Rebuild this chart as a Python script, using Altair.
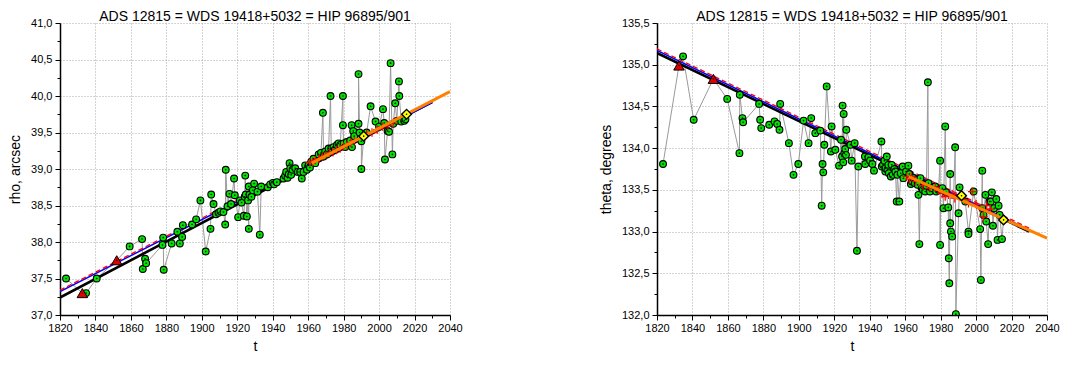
import altair as alt
import pandas as pd

TITLE = "ADS 12815 = WDS 19418+5032 = HIP 96895/901"
FONT = "Liberation Sans"

# ---------------- rho panel data ----------------
rho_t = [1823.4, 1834.7, 1840.7, 1859.3, 1866.3, 1866.7, 1868.0, 1868.6, 1877.8, 1878.2,
         1878.5, 1883.0, 1886.2, 1887.6, 1888.9, 1889.3, 1894.5, 1896.8, 1899.2, 1902.2,
         1904.9, 1905.3, 1906.6, 1908.0, 1909.4, 1910.5, 1912.2, 1913.2, 1913.5, 1914.5,
         1915.6, 1916.5, 1918.2, 1918.6, 1920.5, 1921.5, 1922.4, 1923.7, 1924.2, 1924.5,
         1924.8, 1925.4, 1926.1, 1926.5, 1926.5, 1926.9, 1928.0, 1928.8, 1929.5, 1931.4,
         1932.7, 1933.5, 1937.2, 1938.6, 1940.1, 1940.8, 1942.3, 1946.1, 1947.0, 1947.6,
         1948.4, 1949.0, 1949.5, 1949.9, 1950.4, 1951.2, 1952.7, 1954.2, 1955.5, 1956.4,
         1957.4, 1958.3, 1959.3, 1960.2, 1961.0, 1961.7, 1963.0, 1964.0, 1965.9, 1967.2,
         1968.3, 1968.7, 1969.6, 1970.5, 1971.5, 1972.6, 1973.0, 1974.3, 1975.0, 1976.2,
         1977.1, 1978.1, 1979.6, 1979.6, 1980.0, 1980.9, 1981.8, 1983.7, 1984.5, 1984.7,
         1985.4, 1986.0, 1988.4, 1988.4, 1989.0, 1990.0, 1990.0, 1993.0, 1995.2, 1998.0,
         2000.0, 2002.2, 2002.9, 2003.3, 2004.8, 2005.6, 2006.5, 2007.5, 2008.0, 2009.1,
         2010.0, 2011.2, 2011.4, 2012.5, 2014.2, 2014.9]
rho_v = [37.50, 37.30, 37.50, 37.94, 38.04, 37.63, 37.77, 37.71, 37.96, 38.06,
         37.62, 37.98, 38.14, 37.98, 38.07, 38.23, 38.24, 38.31, 38.57, 37.87,
         38.18, 38.65, 38.52, 38.38, 38.40, 38.42, 38.41, 38.24, 38.99, 38.49,
         38.66, 38.52, 38.87, 38.64, 38.34, 38.57, 38.54, 38.36, 38.62, 38.91,
         38.65, 38.35, 38.57, 38.18, 38.76, 38.65, 38.62, 38.71, 38.80, 38.69,
         38.10, 38.76, 38.75, 38.79, 38.81, 38.79, 38.82, 38.87, 38.91, 38.96,
         38.88, 38.93, 39.08, 39.01, 38.92, 38.99, 39.01, 38.96, 38.96, 38.87,
         38.96, 39.05, 38.99, 39.05, 39.02, 39.10, 39.14, 39.08, 39.20, 39.22,
         39.77, 39.17, 39.24, 39.20, 39.28, 40.00, 39.28, 39.30, 39.26, 39.33,
         39.35, 39.33, 40.00, 39.60, 39.35, 39.30, 39.37, 39.39, 39.60, 39.30,
         39.52, 39.45, 39.62, 40.30, 39.50, 39.38, 39.00, 39.50, 39.86, 39.65,
         39.58, 39.82, 39.63, 39.13, 39.52, 39.51, 40.45, 39.20, 39.62, 39.90,
         39.66, 40.20, 40.00, 39.65, 39.66, 39.68]
rho_tri_t = [1832.6, 1852.0]
rho_tri_v = [37.30, 37.75]
rho_dia_t = [1991.3, 2015.5]
rho_dia_v = [39.45, 39.75]
rho_x_t = [1961.0, 1962.5, 1964.0, 1966.0, 1968.0, 1970.0, 1972.0, 1974.0, 1976.0, 1978.0,
           1980.0, 1982.0, 1984.0, 1986.0, 1993.0, 1996.0, 1999.0, 2002.0, 2005.0, 2008.0]
rho_x_v = [39.09, 39.10, 39.12, 39.14, 39.17, 39.19, 39.22, 39.23, 39.26, 39.28,
           39.31, 39.33, 39.36, 39.39, 39.48, 39.50, 39.54, 39.58, 39.60, 39.63]
rho_fit_t = [1820, 2030]
rho_black = [37.24, 39.92]
rho_blue = [37.32, 39.91]
rho_red = [37.34, 39.93]
rho_orange_t = [1962, 2040]
rho_orange = [39.08, 40.06]
rho_ticks = [37.0, 37.25, 37.5, 37.75, 38.0, 38.25, 38.5, 38.75, 39.0,
             39.25, 39.5, 39.75, 40.0, 40.25, 40.5, 40.75, 41.0]

# ---------------- theta panel data ----------------
th_t = [1823.4, 1834.7, 1840.7, 1859.6, 1866.5, 1866.7, 1868.2, 1868.6, 1877.6, 1878.2,
        1878.8, 1883.3, 1886.3, 1887.8, 1889.1, 1889.5, 1894.4, 1897.0, 1899.7, 1902.7,
        1905.5, 1907.0, 1909.3, 1912.1, 1912.9, 1913.4, 1913.8, 1914.4, 1915.7, 1918.1,
        1918.5, 1920.6, 1922.7, 1923.8, 1924.4, 1924.7, 1925.1, 1925.3, 1925.7, 1926.2,
        1926.6, 1926.8, 1929.1, 1929.8, 1931.5, 1932.8, 1933.6, 1937.3, 1937.5, 1939.2,
        1940.2, 1941.5, 1942.4,
        1946.6, 1946.8, 1947.5, 1948.3, 1948.8, 1949.0, 1949.6, 1950.0, 1950.5, 1950.8,
        1951.9, 1952.4, 1953.0, 1953.9, 1954.5, 1955.2, 1955.6, 1956.7, 1957.5, 1958.6,
        1959.0, 1960.5, 1961.8, 1962.4, 1963.2, 1963.8, 1964.7, 1965.5, 1966.5, 1967.0,
        1967.5, 1968.0, 1968.6, 1969.4, 1970.0, 1971.3, 1972.0, 1972.8, 1973.1, 1974.0,
        1975.0, 1976.9, 1977.5, 1978.8, 1979.7, 1979.7, 1980.0, 1981.0,
        1981.6, 1982.6, 1983.1, 1984.3,
        1984.6, 1984.9, 1985.4, 1985.4, 1985.8, 1986.5, 1988.2, 1988.6, 1990.1, 1990.7,
        1993.9, 1995.7, 1995.7, 1998.6, 2002.3, 2002.7, 2003.5, 2003.5, 2004.2, 2005.3,
        2005.7, 2006.8, 2007.6, 2008.3, 2008.9, 2009.5, 2010.2, 2011.4, 2012.1, 2012.7,
        2013.3, 2014.6]
th_v = [133.81, 135.10, 134.34, 134.59, 133.94, 134.64, 134.36, 134.31, 134.53, 134.34,
        134.24, 134.28, 134.32, 134.29, 134.22, 134.53, 134.06, 133.68, 133.81, 134.33,
        134.06, 134.36, 134.18, 134.21, 133.31, 133.81, 133.71, 134.04, 134.74, 133.96,
        134.26, 133.98, 133.79, 134.10, 133.90, 134.51, 133.83, 134.41, 133.94, 133.99,
        133.92, 134.22, 134.04, 133.85, 134.06, 132.77, 133.78, 133.90, 133.81, 133.89,
        133.85, 133.81, 133.73,
        134.08, 133.78, 133.80, 133.85, 133.72, 133.76, 133.90, 133.74, 133.80, 133.70,
        133.66, 133.80, 133.68, 133.75, 133.72, 133.36, 133.68, 133.36, 133.70, 133.78,
        133.64, 133.72, 133.79, 133.69, 133.57, 133.60, 133.64, 133.58, 133.62, 133.56,
        133.44, 132.85, 133.64, 133.52, 133.50, 133.48, 133.55, 134.79, 133.58, 133.48,
        133.52, 133.54, 133.48, 133.50, 133.85, 132.84, 133.50, 133.52,
        133.28, 134.26, 133.47, 133.29,
        132.68, 132.38, 133.69, 133.10, 133.00, 132.94, 134.01, 132.01, 133.22, 133.53,
        133.36, 133.00, 132.97, 133.48, 133.03, 132.42, 133.73, 133.28, 133.20, 133.44,
        133.12, 132.85, 133.36, 133.36, 133.47, 133.07, 133.28, 133.39, 132.90, 133.31,
        133.20, 132.91]
th_tri_t = [1832.4, 1851.8]
th_tri_v = [134.99, 134.83]
th_dia_t = [1991.8, 2015.5]
th_dia_v = [133.43, 133.14]
th_x_t = [1960.9, 1962.4, 1963.5, 1966.0, 1970.0, 1974.0, 1977.0, 1979.0, 1981.0, 1982.6,
          1984.5, 1986.5, 1988.0, 1993.5, 1995.7, 1997.8, 2000.0, 2002.3, 2004.2, 2006.0,
          2008.0]
th_x_v = [133.66, 133.63, 133.66, 133.60, 133.55, 133.52, 133.53, 133.49, 133.46, 133.42,
          133.44, 133.45, 133.40, 133.38, 133.34, 133.48, 133.33, 133.28, 133.18, 133.31,
          133.27]
th_fit_t = [1820, 2030]
th_black = [135.14, 133.00]
th_blue = [135.17, 133.02]
th_red = [135.19, 133.04]
th_orange_t = [1962, 2040]
th_orange = [133.66, 132.92]
th_ticks = [132.0, 132.25, 132.5, 132.75, 133.0, 133.25, 133.5, 133.75, 134.0,
            134.25, 134.5, 134.75, 135.0, 135.25, 135.5]

x_ticks = [1820, 1830, 1840, 1850, 1860, 1870, 1880, 1890, 1900, 1910, 1920, 1930,
           1940, 1950, 1960, 1970, 1980, 1990, 2000, 2010, 2020, 2030, 2040]

PW, PH = 390, 292


def panel(obs_t, obs_v, tri_t, tri_v, dia_t, dia_v, x_t, x_v,
          fit_t, black, blue, red, or_t, orange, ticks, ytitle):
    lo, hi = ticks[0], ticks[-1]
    xaxis = alt.Axis(
        values=x_ticks, title="t",
        labelExpr="datum.value % 20 === 0 ? '' + datum.value : ''",
        tickSize={"condition": {"test": "datum.value % 20 === 0", "value": 5}, "value": 3},
        gridOpacity={"condition": {"test": "datum.value % 20 === 0", "value": 1}, "value": 0},
        labelPadding=2, titlePadding=6, labelOverlap=False, labelFlush=False,
    )
    yaxis = alt.Axis(
        values=ticks, title=ytitle,
        labelExpr="datum.value % 0.5 === 0 ? replace(format(datum.value, '.1f'), '.', ',') : ''",
        tickSize={"condition": {"test": "datum.value % 0.5 === 0", "value": 5}, "value": 3},
        gridOpacity={"condition": {"test": "datum.value % 0.5 === 0", "value": 1}, "value": 0},
        labelPadding=3, titlePadding=8, labelOverlap=False, labelFlush=False,
    )
    X = alt.X("t:Q", scale=alt.Scale(domain=[1820, 2040], nice=False, zero=False), axis=xaxis)
    Y = alt.Y("v:Q", scale=alt.Scale(domain=[lo, hi], nice=False, zero=False), axis=yaxis)

    obs = pd.DataFrame({"t": obs_t + tri_t + dia_t, "v": obs_v + tri_v + dia_v})
    obs = obs.sort_values("t", kind="stable").reset_index(drop=True)
    obs["i"] = range(len(obs))
    green = pd.DataFrame({"t": obs_t, "v": obs_v})
    tri = pd.DataFrame({"t": tri_t, "v": tri_v})
    dia = pd.DataFrame({"t": dia_t, "v": dia_v})
    crosses = pd.DataFrame({"t": x_t, "v": x_v})
    fb = pd.DataFrame({"t": fit_t, "v": black})
    fbl = pd.DataFrame({"t": fit_t, "v": blue})
    fr = pd.DataFrame({"t": fit_t, "v": red})
    fo = pd.DataFrame({"t": or_t, "v": orange})

    gray = alt.Chart(obs).mark_line(color="#9a9a9a", strokeWidth=1, clip=True).encode(
        x=X, y=Y, order="i:Q")
    l_black = alt.Chart(fb).mark_line(color="black", strokeWidth=2.6, clip=True).encode(x=X, y=Y)
    l_blue = alt.Chart(fbl).mark_line(color="#0000ff", strokeWidth=1.5, clip=True).encode(x=X, y=Y)
    l_red = alt.Chart(fr).mark_line(color="#ff0000", strokeWidth=1.3, strokeDash=[5, 3], clip=True).encode(x=X, y=Y)
    pts = alt.Chart(green).mark_point(shape="circle", filled=True, fill="#00e400", stroke="black",
                                      strokeWidth=1.1, size=46, opacity=1, clip=True).encode(x=X, y=Y)
    dots = alt.Chart(green).mark_point(shape="circle", filled=True, color="black", size=2.5,
                                       opacity=1, clip=True).encode(x=X, y=Y)
    crs = alt.Chart(crosses).mark_point(shape="M-1,0L1,0M0,-1L0,1", filled=False, stroke="#ff0000",
                                        strokeWidth=1.2, size=70, opacity=1, clip=True).encode(x=X, y=Y)
    l_or = alt.Chart(fo).mark_line(color="#ff8000", strokeWidth=3, clip=True).encode(x=X, y=Y)
    tris = alt.Chart(tri).mark_point(shape="triangle-up", filled=True, fill="#e00000", stroke="black",
                                     strokeWidth=1, size=110, opacity=1).encode(x=X, y=Y)
    tdots = alt.Chart(tri).mark_point(shape="circle", filled=True, color="black", size=2,
                                      opacity=1).encode(x=X, y=Y)
    dias = alt.Chart(dia).mark_point(shape="diamond", filled=True, fill="#ffff00", stroke="black",
                                     strokeWidth=1.4, size=95, opacity=1).encode(x=X, y=Y)
    ddots = alt.Chart(dia).mark_point(shape="circle", filled=True, color="black", size=2.5,
                                      opacity=1).encode(x=X, y=Y)
    return alt.layer(gray, l_black, l_blue, l_red, pts, dots, crs, l_or, tris, tdots, dias, ddots).properties(
        width=PW, height=PH,
        title=alt.TitleParams(TITLE, fontSize=14, font=FONT, fontWeight="normal",
                              anchor="middle", offset=-7, color="black"))


left = panel(rho_t, rho_v, rho_tri_t, rho_tri_v, rho_dia_t, rho_dia_v, rho_x_t, rho_x_v,
             rho_fit_t, rho_black, rho_blue, rho_red, rho_orange_t, rho_orange, rho_ticks,
             "rho, arcsec")
right = panel(th_t, th_v, th_tri_t, th_tri_v, th_dia_t, th_dia_v, th_x_t, th_x_v,
              th_fit_t, th_black, th_blue, th_red, th_orange_t, th_orange, th_ticks,
              "theta, degrees")

chart = alt.hconcat(left, right, spacing=136).properties(
    padding={"left": 0, "top": 2, "right": 0, "bottom": 0}).configure_view(
    stroke=None).configure_axis(
    labelFont=FONT, titleFont=FONT, labelFontSize=11, titleFontSize=14,
    titleFontWeight="normal", labelColor="black", titleColor="black",
    domainColor="black", domainWidth=1.5, tickColor="black", tickWidth=1,
    gridColor="#a8a8a8", gridDash=[1, 2], gridWidth=1)

chart.save("out.html", embed_options={"renderer": "svg", "actions": False})
